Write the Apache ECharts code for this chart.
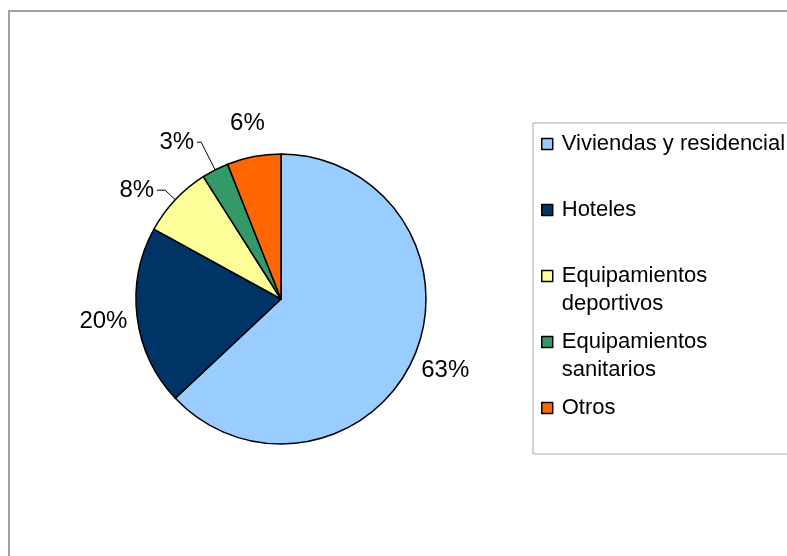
<!DOCTYPE html>
<html>
<head>
<meta charset="utf-8">
<script src="https://cdn.jsdelivr.net/npm/echarts@6/dist/echarts.min.js"></script>
<style>
  html, body { margin: 0; padding: 0; background: #ffffff; }
  #chart { width: 787px; height: 556px; }
</style>
</head>
<body>
<div id="chart"></div>
<script>
// Share of each building type (percent)
const categories = [
  'Viviendas y residencial',
  'Hoteles',
  'Equipamientos\ndeportivos',
  'Equipamientos\nsanitarios',
  'Otros'
];
const values = [63, 20, 8, 3, 6];
const colors = ['#99CCFF', '#003366', '#FFFF99', '#339966', '#FF6600'];

// Small slices get their label pulled out with a leader line
const leaderLines = {
  'Equipamientos\ndeportivos': { length: 14, length2: 8 },
  'Equipamientos\nsanitarios': { length: 31, length2: 4 }
};

const FONT = '"Liberation Sans", Arial, Helvetica, sans-serif';
const CENTER = [281, 299];
const pctText = p => Math.round(p.percent) + '%';

const pieData = categories.map((name, i) => {
  const lead = leaderLines[name];
  return {
    name,
    value: values[i],
    itemStyle: { color: colors[i] },
    label: { show: !!lead },
    labelLine: lead ? { show: true, length: lead.length, length2: lead.length2 } : { show: false }
  };
});

// Transparent ring around the pie: carries the centred labels of the larger slices
const ringData = categories.map((name, i) => ({
  name,
  value: values[i],
  label: { show: !leaderLines[name] }
}));

// Every legend entry is two text rows tall (the second may be blank),
// so the entries stay evenly spaced
const legendText = name => {
  const rows = name.split('\n');
  if (rows.length < 2) rows.push('\u00a0');
  return rows.map(s => '{t|' + s + '}').join('\n');
};

const chart = echarts.init(document.getElementById('chart'), null, { renderer: 'canvas' });

chart.setOption({
  animation: false,
  backgroundColor: '#ffffff',
  graphic: [{
    type: 'rect',
    silent: true,
    shape: { x: 9, y: 11, width: 900, height: 700 },
    style: { fill: 'none', stroke: '#a0a0a0', lineWidth: 2 }
  }],
  legend: {
    orient: 'vertical',
    left: 533,
    top: 123,
    padding: [7, 30, 7, 8],
    borderColor: '#a8a8a8',
    borderWidth: 1,
    backgroundColor: '#ffffff',
    itemGap: 13,
    itemWidth: 11,
    itemHeight: 11,
    icon: 'rect',
    selectedMode: false,
    data: categories,
    itemStyle: { borderColor: '#000000', borderWidth: 1.5 },
    formatter: legendText,
    textStyle: {
      fontFamily: FONT,
      fontSize: 22,
      color: '#000000',
      lineHeight: 28,
      height: 28,
      padding: [0, 0, 0, 4],
      rich: {
        t: { fontFamily: FONT, fontSize: 22, color: '#000000', lineHeight: 28 }
      }
    }
  },
  series: [
    {
      name: 'main',
      type: 'pie',
      center: CENTER,
      radius: 145,
      startAngle: 90,
      clockwise: true,
      avoidLabelOverlap: false,
      silent: true,
      itemStyle: { borderColor: '#000000', borderWidth: 1.5 },
      label: {
        position: 'outside',
        formatter: pctText,
        fontFamily: FONT,
        fontSize: 24,
        color: '#000000',
        distanceToLabelLine: 3
      },
      labelLine: {
        smooth: false,
        lineStyle: { color: '#000000', width: 1 }
      },
      emphasis: { disabled: true },
      data: pieData
    },
    {
      name: 'labels',
      type: 'pie',
      center: CENTER,
      radius: [145, 207],
      startAngle: 90,
      clockwise: true,
      avoidLabelOverlap: false,
      silent: true,
      itemStyle: { color: 'rgba(0,0,0,0)', borderWidth: 0 },
      label: {
        position: 'inside',
        formatter: pctText,
        fontFamily: FONT,
        fontSize: 24,
        color: '#000000'
      },
      labelLine: { show: false },
      emphasis: { disabled: true },
      data: ringData
    }
  ]
});
</script>
</body>
</html>
